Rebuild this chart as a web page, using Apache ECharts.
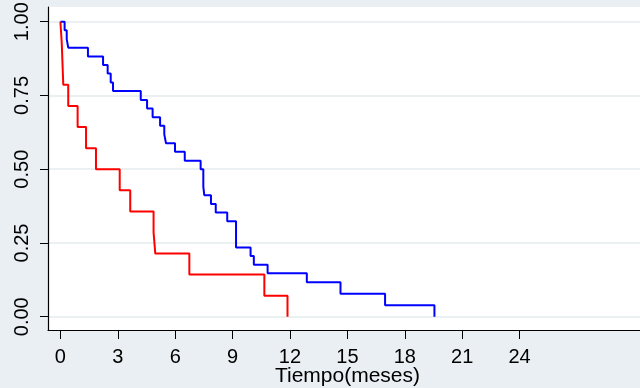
<!DOCTYPE html>
<html>
<head>
<meta charset="utf-8">
<script src="https://cdn.jsdelivr.net/npm/echarts@6/dist/echarts.min.js"></script>
<style>
html,body{margin:0;padding:0;background:#e9eff2;}
#chart{width:640px;height:388px;}
</style>
</head>
<body>
<div id="chart"></div>
<script>
// Kaplan-Meier step curves (time in months, survival probability)
var blueTime = [0, 0.22, 0.33, 0.41, 1.44, 2.23, 2.47, 2.63, 2.75, 4.20, 4.53, 4.82, 5.21, 5.43, 5.52, 5.99, 6.50, 7.33, 7.47, 7.52, 7.87, 8.12, 8.72, 9.18, 9.94, 10.11, 10.83, 12.88, 14.64, 16.97, 19.55];
var blueSurv = [1, 0.971, 0.941, 0.912, 0.882, 0.853, 0.824, 0.794, 0.765, 0.735, 0.706, 0.676, 0.647, 0.618, 0.588, 0.559, 0.529, 0.5, 0.441, 0.412, 0.382, 0.353, 0.324, 0.235, 0.206, 0.176, 0.147, 0.117, 0.078, 0.039, 0];
var redTime = [0, 0.07, 0.15, 0.41, 0.90, 1.34, 1.86, 3.10, 3.65, 4.87, 4.96, 6.74, 10.66, 11.87];
var redSurv = [1, 0.929, 0.786, 0.714, 0.643, 0.571, 0.5, 0.429, 0.357, 0.286, 0.214, 0.143, 0.071, 0];
var xTicks = [0, 3, 6, 9, 12, 15, 18, 21, 24];
var yTicks = [0, 0.25, 0.5, 0.75, 1];
var xTitle = 'Tiempo(meses)';

function pairs(t, s) { return t.map(function (v, i) { return [v, s[i]]; }); }

var font = '"Liberation Sans", Arial, sans-serif';
var chart = echarts.init(document.getElementById('chart'), null, {renderer: 'canvas'});
chart.setOption({
  backgroundColor: '#e9eff2',
  animation: false,
  grid: {left: 48, top: 7, right: -7, bottom: 58, show: true, backgroundColor: '#ffffff', borderWidth: 0,
    containLabel: false, outerBoundsMode: 'none'},
  xAxis: {
    type: 'value', min: -0.648, max: 30.66,
    name: xTitle, nameLocation: 'middle', nameGap: 36, nameMoveOverlap: false,
    nameTextStyle: {fontFamily: font, fontSize: 21, color: '#000'},
    axisLine: {show: true, onZero: false, lineStyle: {color: '#000', width: 1.2}},
    axisTick: {show: true, length: 9, customValues: xTicks, lineStyle: {color: '#000', width: 1}},
    axisLabel: {customValues: xTicks, margin: 17, fontFamily: font, fontSize: 20, color: '#000'},
    splitLine: {show: false}
  },
  yAxis: {
    type: 'value', min: -0.045, max: 1.0498,
    axisLine: {show: true, onZero: false, lineStyle: {color: '#000', width: 1.2}},
    axisTick: {show: true, length: 8, customValues: yTicks, lineStyle: {color: '#000', width: 1}},
    axisLabel: {customValues: yTicks, rotate: 90, margin: 16, fontFamily: font, fontSize: 20, color: '#000',
      formatter: function (v) { return v.toFixed(2); }},
    splitLine: {show: true, lineStyle: {color: '#e4ecef', width: 1.5}}
  },
  series: [
    {type: 'line', step: 'end', data: pairs(blueTime, blueSurv), showSymbol: false, symbol: 'none',
      lineStyle: {color: '#0000ff', width: 2}, z: 3},
    {type: 'line', step: 'end', data: pairs(redTime, redSurv), showSymbol: false, symbol: 'none',
      lineStyle: {color: '#ff0000', width: 2}, z: 3}
  ]
});
</script>
</body>
</html>
